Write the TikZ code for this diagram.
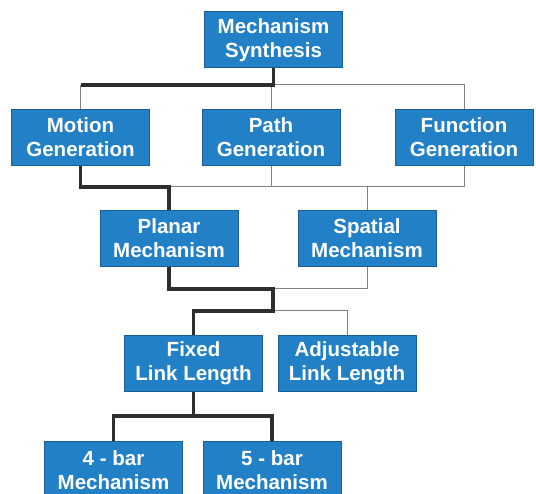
\documentclass[tikz,border=0pt]{standalone}
\usepackage{fontspec}
\setmainfont{Liberation Sans}
\definecolor{boxfill}{HTML}{2180C6}
\definecolor{boxedge}{HTML}{1A5E96}
\definecolor{thickc}{HTML}{2E2E2E}
\definecolor{thinc}{HTML}{808080}
\begin{document}
\begin{tikzpicture}[x=1pt,y=-1pt,
  box/.style={draw=boxedge,line width=1pt,fill=boxfill,text=white,
    font=\fontsize{20.5}{24}\selectfont\bfseries,align=center,
    minimum width=138pt,minimum height=56pt,inner sep=0pt},
  thickline/.style={draw=thickc,line width=3.3pt,line join=miter},
  thinline/.style={draw=thinc,line width=1pt}]
\useasboundingbox (0,0) rectangle (536,494);
\node[box] (ms) at (273.5,40) {Mechanism\\Synthesis};
\node[box] (mg) at (80.5,137.5) {Motion\\Generation};
\node[box] (pg) at (271,137.5) {Path\\Generation};
\node[box] (fg) at (464,137.5) {Function\\Generation};
\node[box] (pm) at (169,238.5) {Planar\\Mechanism};
\node[box] (sm) at (367,238.5) {Spatial\\Mechanism};
\node[box] (fl) at (193.5,363.5) {Fixed\\Link Length};
\node[box] (al) at (347,363.5) {Adjustable\\Link Length};
\node[box] (fb) at (113.5,470) {4 - bar\\Mechanism};
\node[box] (vb) at (272,470) {5 - bar\\Mechanism};
\coordinate (j1) at (273.5,85);
\coordinate (j2) at (169,187);
\coordinate (j3) at (273,289);
\coordinate (j3b) at (273,311);
\coordinate (j4) at (193.5,416);
% level 1
\draw[thinline] (j1 -| mg.north) -- (mg.north);
\draw[thinline] (j1 -| pg.north) -- (pg.north);
\draw[thinline] (j1) -| (fg.north);
\draw[thickline] (ms.south) -- (j1) -- (j1 -| mg.north);
% level 2
\draw[thinline] (pg.south) -- (pg.south |- j2);
\draw[thinline] (j2) -| (fg.south);
\draw[thinline] (sm.north |- j2) -- (sm.north);
\draw[thickline] (mg.south) |- (j2) -- (pm.north);
% level 3
\draw[thinline] (sm.south) |- (j3);
\draw[thinline] (j3b) -| (al.north);
\draw[thickline] (pm.south) |- (j3) -- (j3b) -| (fl.north);
% level 4
\draw[thickline] (fl.south) -- (j4);
\draw[thickline] (fb.north) |- (j4) -| (vb.north);
\end{tikzpicture}
\end{document}
